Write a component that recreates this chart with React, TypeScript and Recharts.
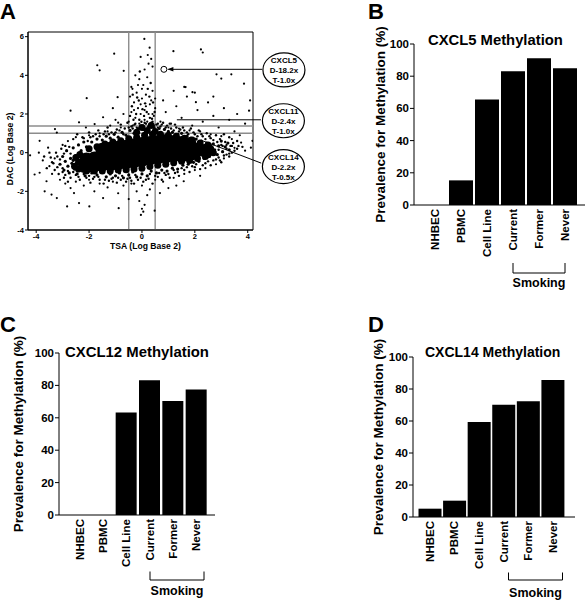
import React from "react";
import {
  ScatterChart,
  Scatter,
  BarChart,
  Bar,
  XAxis,
  YAxis,
  ReferenceLine,
  ReferenceDot,
  ReferenceArea,
} from "recharts";

const FONT = "'Liberation Sans', Arial, Helvetica, sans-serif";

// ---- panel A: TSA vs DAC expression change (log2) ----
const tsaTicks = [-4, -2, 0, 2, 4];
const dacTicks = [-4, -2, 0, 2, 4, 6];
const tsaCutoffs = [-0.5, 0.5];
const dacCutoffs = [1.0, 1.38];

// the solid middle of the cloud (three tilted rows)
const blobCore: [number, number][] = [
  [-2.1, -0.35], [-1.8, -0.3], [-1.5, -0.25], [-1.2, -0.2], [-0.9, -0.15], [-0.6, -0.1],
  [-0.3, -0.02], [0.0, 0.05], [0.3, 0.1], [0.6, 0.15], [0.9, 0.2], [1.2, 0.2],
  [1.5, 0.2], [1.8, 0.18], [2.1, 0.15], [2.4, 0.1],
  [-1.5, 0.15], [-1.2, 0.2], [-0.9, 0.25], [-0.6, 0.3], [-0.3, 0.38], [0.0, 0.45],
  [0.3, 0.5], [0.6, 0.55], [0.9, 0.6], [1.2, 0.55], [1.5, 0.5], [1.8, 0.45],
  [-2.1, -0.7], [-1.8, -0.65], [-1.5, -0.62], [-1.2, -0.6], [-0.9, -0.55], [-0.6, -0.5],
  [-0.3, -0.45], [0.0, -0.38], [0.3, -0.3], [0.6, -0.25], [0.9, -0.2], [1.2, -0.15],
  [1.5, -0.15], [1.8, -0.1],
];

// dense rim of the cloud
const blobEdge: [number, number][] = [
  [-2.0, 0.2], [-1.7, 0.3], [-1.4, 0.45], [-1.1, 0.55], [-0.8, 0.62], [-0.5, 0.72],
  [-0.2, 0.8], [0.1, 0.9], [0.4, 0.95], [0.7, 0.95], [1.0, 0.9], [1.3, 0.85],
  [1.6, 0.75], [1.9, 0.65], [2.2, 0.5], [2.5, 0.4],
  [-2.4, -0.85], [-2.1, -0.95], [-1.8, -0.95], [-1.5, -0.95], [-1.2, -0.95], [-0.9, -0.9],
  [-0.6, -0.88], [-0.3, -0.85], [0.0, -0.8], [0.3, -0.72], [0.6, -0.65], [0.9, -0.6],
  [1.2, -0.52], [1.5, -0.45], [1.8, -0.4], [2.1, -0.3], [2.4, -0.2],
  [-2.4, -0.5], [-2.5, -0.25], [-2.35, -0.1], [-2.55, -0.7], [2.6, 0.2], [2.7, 0.0],
  [2.5, -0.1], [-0.2, 1.05], [0.2, 1.15], [0.5, 1.1], [0.0, 1.3], [0.35, 1.4],
];

const fringe: [number, number][] = [
  [-3.1, -0.6], [-3.0, -0.2], [-2.95, -0.9], [-2.9, -0.45], [-2.85, 0.1], [-2.8, -0.7],
  [-2.75, -1.05], [-2.7, -0.3], [-2.65, -0.55], [-2.6, 0.25], [-2.55, -0.85], [-2.5, -0.15],
  [-2.45, -1.1], [-2.4, 0.4], [-2.35, -0.65], [-2.3, 0.1], [-2.25, -0.95], [-2.2, 0.55],
  [-2.15, -1.2], [-2.1, 0.3], [-2.05, -1.0], [-2.3, -0.35], [-2.6, -0.4], [-2.4, -0.2],
  [-1.9, 0.55], [-1.7, 0.7], [-1.5, 0.65], [-1.35, 0.85], [-1.2, 0.75], [-1.05, 0.95],
  [-0.9, 0.8], [-0.75, 1.05], [-0.6, 0.9], [-0.45, 1.15], [-0.3, 1.0], [-0.15, 1.25],
  [0.05, 1.2], [0.25, 1.35], [0.45, 1.3], [0.65, 1.25], [0.85, 1.2], [1.0, 1.1],
  [1.15, 1.05], [1.35, 0.95], [1.5, 1.0], [1.7, 0.85], [1.85, 0.75], [2.05, 0.7],
  [2.25, 0.6], [2.45, 0.5], [2.6, 0.35],
  [-1.9, -1.05], [-1.7, -1.15], [-1.5, -1.0], [-1.35, -1.25], [-1.2, -1.1], [-1.0, -1.2],
  [-0.85, -1.05], [-0.7, -1.3], [-0.5, -1.15], [-0.35, -1.0], [-0.2, -1.25], [0.0, -1.1],
  [0.2, -1.2], [0.35, -0.95], [0.55, -1.05], [0.75, -0.9], [0.95, -0.95], [1.15, -0.8],
  [1.35, -0.85], [1.55, -0.65], [1.75, -0.6], [1.95, -0.5], [2.15, -0.45], [2.35, -0.3],
  [2.55, -0.2],
  [2.4, 0.1], [2.5, 0.3], [2.6, -0.05], [2.7, 0.45], [2.75, 0.15], [2.85, -0.1],
  [2.9, 0.35], [3.0, 0.6], [3.05, 0.05], [3.15, 0.3], [3.25, 0.5], [3.3, 0.15],
];

// speckle ring hugging the rim
const ring: [number, number][] = [
  [-2.2, 0.75], [-2.05, 0.6], [-1.95, 0.8], [-1.75, 0.95], [-1.6, 0.85], [-1.4, 1.1],
  [-1.25, 0.95], [-1.0, 1.05], [-0.85, 1.15], [-0.7, 0.95], [-0.5, 1.3], [-0.35, 1.25],
  [-0.05, 1.4], [0.1, 1.55], [0.35, 1.55], [0.6, 1.5], [0.75, 1.45], [0.9, 1.3],
  [1.05, 1.5], [1.2, 1.15], [1.3, 1.3], [1.45, 1.2], [1.6, 1.15], [1.75, 0.95],
  [1.95, 1.05], [2.1, 0.85], [2.25, 0.95], [2.4, 0.7], [2.55, 0.85], [2.7, 0.65],
  [2.85, 0.55], [3.0, 0.4], [3.15, 0.55], [3.35, 0.35],
  [-2.9, -1.15], [-2.6, -1.0], [-2.4, -1.25], [-2.2, -1.1], [-2.0, -1.2], [-1.85, -1.35],
  [-1.65, -1.25], [-1.4, -1.4], [-1.15, -1.35], [-0.9, -1.3], [-0.75, -1.2], [-0.55, -1.35],
  [-0.4, -1.45], [-0.25, -1.15], [-0.05, -1.3], [0.15, -1.4], [0.3, -1.1], [0.5, -1.2],
  [0.65, -1.05], [0.85, -1.05], [1.0, -1.1], [1.2, -0.9], [1.35, -1.0], [1.5, -0.8],
  [1.7, -0.75], [1.9, -0.7], [2.05, -0.6], [2.3, -0.65], [2.5, -0.45], [2.7, -0.4],
  [2.9, -0.25], [3.1, -0.15], [3.3, -0.2],
  [-3.2, -0.75], [-3.1, -0.35], [-3.25, 0.0], [-2.95, -0.05], [-3.0, -0.8], [-2.8, -0.95],
  [-2.75, 0.3], [-2.7, -0.05], [-3.35, -0.55], [-3.45, -0.25],
  [2.9, 0.15], [3.05, 0.35], [3.2, 0.2], [3.4, 0.35], [3.5, 0.1], [3.65, 0.35],
  [3.8, 0.3], [2.95, -0.4], [3.3, -0.05],
];

// speckle just outside the ring
const halo: [number, number][] = [
  [-2.6, 0.7], [-2.45, 0.95], [-2.25, 0.8], [-2.0, 1.05], [-1.85, 0.85], [-1.65, 1.15],
  [-1.45, 0.95], [-1.3, 1.3], [-1.15, 1.05], [-0.95, 1.2], [-0.8, 1.45], [-0.65, 1.25],
  [-0.55, 1.55], [-0.4, 1.35], [-0.25, 1.5], [-0.1, 1.7], [0.15, 1.5], [0.3, 1.8],
  [0.4, 1.6], [0.55, 1.45], [0.7, 1.35], [0.8, 1.55], [0.95, 1.4], [1.1, 1.25],
  [1.25, 1.45], [1.4, 1.1], [1.55, 1.3], [1.7, 1.05], [1.85, 1.25], [2.0, 0.95],
  [2.15, 1.15], [2.3, 0.85], [2.45, 1.0], [2.6, 0.75], [2.8, 0.9], [2.95, 0.7],
  [3.1, 0.95], [3.3, 0.8], [3.45, 0.5], [3.6, 0.6],
  [-2.7, -1.3], [-2.5, -1.15], [-2.35, -1.4], [-2.1, -1.3], [-1.95, -1.55], [-1.8, -1.25],
  [-1.6, -1.4], [-1.45, -1.6], [-1.25, -1.45], [-1.1, -1.3], [-0.95, -1.55], [-0.8, -1.4],
  [-0.6, -1.5], [-0.45, -1.3], [-0.3, -1.6], [-0.15, -1.4], [0.05, -1.5], [0.25, -1.35],
  [0.4, -1.6], [0.6, -1.25], [0.75, -1.4], [0.9, -1.15], [1.05, -1.3], [1.25, -1.05],
  [1.4, -1.2], [1.6, -0.9], [1.8, -1.0], [2.0, -0.75], [2.2, -0.85], [2.4, -0.55],
  [2.6, -0.65], [2.8, -0.35], [3.0, -0.5], [3.2, -0.1], [3.4, 0.0], [3.6, 0.2],
  [-3.4, -0.5], [-3.3, -0.9], [-3.2, -0.2], [-3.15, -1.1], [-3.05, 0.2], [-2.95, -1.3],
  [-2.9, 0.35], [-3.5, 0.0], [-3.6, -0.8], [-3.7, -0.2], [-2.8, -1.5], [-3.0, -1.0],
  [-0.45, 1.9], [-0.38, 2.4], [-0.32, 1.7], [-0.22, 2.0], [-0.12, 2.7], [-0.02, 1.6],
  [0.08, 1.9], [0.18, 2.1], [0.28, 2.9], [0.38, 1.75], [0.48, 2.1], [-0.28, 1.45],
  [0.12, 2.55], [-0.18, 2.85], [0.22, 3.3], [0.02, 2.25], [-0.35, 3.0], [0.33, 3.6],
  [-0.08, 4.2], [0.42, 2.6],
];

const sparse: [number, number][] = [
  // column above the cloud
  [-0.5, 1.6], [-0.4, 2.1], [-0.35, 1.4], [-0.3, 2.6], [-0.25, 1.8], [-0.2, 3.1],
  [-0.15, 2.3], [-0.1, 1.5], [-0.05, 2.0], [0.0, 2.8], [0.05, 3.5], [0.1, 1.7],
  [0.15, 2.4], [0.2, 3.9], [0.25, 2.0], [0.3, 1.5], [0.35, 2.7], [0.4, 3.2],
  [0.45, 1.9], [0.5, 2.3], [-0.45, 2.9], [-0.1, 3.8], [0.1, 4.3], [0.25, 4.6],
  [-0.25, 4.0], [0.35, 4.85], [0.0, 3.3], [-0.4, 3.4], [0.15, 3.0], [0.3, 2.5],
  [-0.2, 1.3], [0.05, 1.4], [0.2, 1.6], [0.45, 1.4], [-0.05, 2.5], [0.1, 2.2],
  [-0.3, 2.2], [0.4, 2.0], [0.5, 2.8], [-0.15, 3.5],
  // upper right
  [0.7, 1.6], [0.9, 2.1], [1.1, 1.5], [1.3, 2.4], [1.5, 1.8], [1.7, 2.9], [1.9, 1.4],
  [2.1, 2.2], [2.3, 1.6], [2.5, 2.6], [2.7, 1.9], [2.9, 1.3], [3.1, 2.3], [3.3, 1.7],
  [3.5, 1.1], [3.7, 0.9], [3.9, 1.5], [0.8, 2.7], [1.2, 3.2], [1.6, 3.4], [2.0, 3.1],
  [2.7, 2.9], [3.6, 2.0], [4.05, 2.17], [4.09, 2.7], [3.86, 3.57], [3.38, 4.05],
  [2.82, 4.05], [3.0, 3.83], [1.91, 3.13], [2.04, 2.61], [1.65, 3.39], [0.6, 1.3],
  [1.0, 1.3], [1.4, 1.25], [1.8, 1.15], [2.2, 1.1], [2.6, 0.95], [3.0, 0.85], [3.4, 0.7],
  [3.75, 0.52], [4.12, 0.26], [4.18, 0.61], [3.2, 0.4], [3.5, 0.25], [3.9, 0.1],
  // top outliers
  [0.09, 5.88], [-1.05, 5.12], [0.22, 5.05], [1.19, 5.25], [2.23, 5.34], [2.3, 5.18],
  [0.29, 5.43], [-1.69, 4.52], [-1.6, 4.26], [-0.69, 4.23], [-0.36, 3.3], [-0.92, 2.87],
  [-2.09, 2.82], [-2.7, 2.17], [-0.05, 4.95], [0.4, 4.45],
  // upper left
  [-3.29, 1.22], [-3.22, 1.04], [-2.12, 1.3], [-1.79, 1.48], [-1.47, 1.83], [-2.38, 1.57],
  [-1.2, 1.4], [-1.0, 1.7], [-0.8, 1.3], [-0.7, 2.0], [-1.3, 1.1], [-1.6, 1.0],
  [-2.0, 0.9], [-2.5, 0.8], [-2.8, 0.6], [-3.55, 0.26], [-3.87, 0.61], [-3.0, 0.4],
  [-1.1, 2.3], [-0.9, 1.55],
  // lower left
  [-4.06, -1.13], [-3.87, -1.04], [-3.61, -1.48], [-3.42, -2.17], [-3.68, -2.0],
  [-3.22, -2.35], [-2.83, -2.78], [-2.38, -2.61], [-2.57, -2.09], [-1.99, -2.78],
  [-2.7, -1.83], [-4.23, -0.14], [-3.5, -0.7], [-3.3, -0.3], [-3.4, -1.1], [-3.1, -1.4],
  [-2.9, -1.6], [-2.5, -1.5], [-2.2, -1.7], [-2.0, -1.4], [-1.8, -2.0], [-1.6, -1.6],
  [-1.47, -2.35], [-1.3, -1.8], [-1.1, -1.5], [-0.88, -2.87], [-0.9, -2.1], [-0.7, -1.7],
  [-0.5, -2.4], [-0.4, -1.6], [-3.75, -0.4], [-3.9, 0.0],
  // column below the cloud
  [-0.04, -3.22], [0.0, -2.9], [0.05, -3.05], [0.1, -2.7], [-0.1, -2.5], [0.2, -2.2],
  [0.48, -3.0], [0.3, -1.9], [0.0, -1.7], [-0.2, -2.0],
  // lower right
  [0.68, -2.09], [1.0, -1.83], [1.58, -1.48], [0.8, -1.5], [1.2, -1.3], [1.6, -1.1],
  [2.0, -0.9], [2.4, -0.8], [2.8, -0.6], [0.5, -1.4], [1.3, -1.7], [2.2, -1.2], [3.1, -0.3],
];

const cxcl5Point = { x: 0.83, y: 4.31 };
const calloutGenes = ["CXCL5", "CXCL11", "CXCL14"];
const calloutDAC = ["D-18.2x", "D-2.4x", "D-2.2x"];
const calloutTSA = ["T-1.0x", "T-1.0x", "T-0.5x"];

// ---- panels B-D: methylation prevalence ----
const categories = ["NHBEC", "PBMC", "Cell Line", "Current", "Former", "Never"];
const cxcl5Values = [0, 15.3, 65.5, 83, 91.1, 84.9];
const cxcl12Values = [0, 0, 63.3, 83.2, 70.4, 77.4];
const cxcl14Values = [5.2, 10.2, 59.3, 70.2, 72.3, 85.6];
const pctTicks = [0, 20, 40, 60, 80, 100];

const toPts = (arr: [number, number][]) => arr.map(([x, y]) => ({ x, y }));
const dot = (r: number) => (p: any) => <circle cx={p.cx} cy={p.cy} r={r} fill="#000" />;

const calloutPos = [
  { x: 5.37, y: 4.28 },
  { x: 5.35, y: 1.65 },
  { x: 5.35, y: -0.72 },
];

function Callout({ cx, cy, i }: any) {
  const lines = [calloutGenes[i], calloutDAC[i], calloutTSA[i]];
  return (
    <g>
      <ellipse cx={cx} cy={cy} rx={21} ry={17} fill="#fff" stroke="#000" strokeWidth={1.2} />
      {lines.map((t, k) => (
        <text
          key={k}
          x={cx}
          y={cy + (k - 1) * 10 + 0.5}
          textAnchor="middle"
          dominantBaseline="central"
          fontFamily={FONT}
          fontWeight="bold"
          fontSize={8}
          fill="#000"
        >
          {t}
        </text>
      ))}
    </g>
  );
}

function ScatterPanel() {
  const tick = { fill: "#000", fontSize: 7.5, fontWeight: "bold", fontFamily: FONT };
  return (
    <div style={{ position: "absolute", left: 0, top: 0 }}>
      <ScatterChart width={310} height={260} margin={{ top: 32, right: 57, bottom: 0, left: 0 }}>
        <XAxis
          type="number"
          dataKey="x"
          domain={[-4.31, 4.2]}
          ticks={tsaTicks}
          allowDataOverflow
          height={30}
          tickSize={3}
          tickMargin={1}
          stroke="#000"
          tick={tick}
          label={{
            content: (p: any) => {
              const vb = p.viewBox || { x: 28, y: 230, width: 225, height: 30 };
              return (
                <text x={vb.x + vb.width / 2 + 5} y={vb.y + 19} textAnchor="middle" fontFamily={FONT} fontWeight="bold" fontSize={8.6} fill="#000">
                  TSA (Log Base 2)
                </text>
              );
            },
          }}
        />
        <YAxis
          type="number"
          dataKey="y"
          domain={[-4, 6.24]}
          ticks={dacTicks}
          allowDataOverflow
          width={28}
          tickSize={3}
          tickMargin={1}
          stroke="#000"
          tick={tick}
          label={{
            content: (p: any) => {
              const vb = p.viewBox || { x: 0, y: 32, width: 28, height: 198 };
              const cx = vb.x + 10;
              const cy = vb.y + vb.height / 2 + 18;
              return (
                <text x={cx} y={cy} transform={`rotate(-90 ${cx} ${cy})`} textAnchor="middle" dominantBaseline="central" fontFamily={FONT} fontWeight="bold" fontSize={8.6} fill="#000">
                  DAC (Log Base 2)
                </text>
              );
            },
          }}
        />
        <Scatter data={toPts(sparse)} shape={dot(1.1)} isAnimationActive={false} />
        <Scatter data={toPts(halo)} shape={dot(1.2)} isAnimationActive={false} />
        <Scatter data={toPts(ring)} shape={dot(1.2)} isAnimationActive={false} />
        <Scatter data={toPts(fringe)} shape={dot(1.6)} isAnimationActive={false} />
        <Scatter data={toPts(blobEdge)} shape={dot(3.5)} isAnimationActive={false} />
        <Scatter data={toPts(blobCore)} shape={dot(7)} isAnimationActive={false} />
        {tsaCutoffs.map((v) => (
          <ReferenceLine key={"x" + v} x={v} stroke="#8c8c8c" strokeWidth={1.4} />
        ))}
        {dacCutoffs.map((v) => (
          <ReferenceLine key={"y" + v} y={v} stroke="#8c8c8c" strokeWidth={1.4} />
        ))}
        <ReferenceArea x1={-4.31} x2={4.2} y1={-4} y2={6.24} fill="none" fillOpacity={0} stroke="#000" strokeWidth={1} />
        <ReferenceDot x={cxcl5Point.x} y={cxcl5Point.y} r={3} fill="none" stroke="#000" strokeWidth={1} />
        <ReferenceLine segment={[{ x: 1.0, y: 4.31 }, { x: 4.55, y: 4.31 }]} stroke="#000" ifOverflow="visible" />
        <ReferenceDot
          x={1.0}
          y={4.31}
          ifOverflow="visible"
          shape={(p: any) => <polygon points={`${p.cx - 1},${p.cy} ${p.cx + 5},${p.cy - 2.2} ${p.cx + 5},${p.cy + 2.2}`} fill="#000" />}
        />
        <ReferenceLine segment={[{ x: 1.32, y: 1.7 }, { x: 4.5, y: 1.7 }]} stroke="#000" ifOverflow="visible" />
        <ReferenceLine segment={[{ x: 2.3, y: 0.61 }, { x: 4.51, y: -0.54 }]} stroke="#000" ifOverflow="visible" />
        {calloutPos.map((c, i) => (
          <ReferenceDot key={i} x={c.x} y={c.y} ifOverflow="visible" shape={(p: any) => <Callout cx={p.cx} cy={p.cy} i={i} />} />
        ))}
      </ScatterChart>
    </div>
  );
}

function RotTick(p: any) {
  return (
    <text
      x={p.x}
      y={p.y}
      transform={`rotate(-90 ${p.x} ${p.y})`}
      textAnchor="end"
      dy="0.35em"
      fontFamily={FONT}
      fontWeight="bold"
      fontSize={11.5}
      fill="#000"
    >
      {p.payload.value}
    </text>
  );
}

function BarPanel(props: any) {
  const { values, left, top, width, mTop, mBottom, axisW, padL, padR, labelX } = props;
  const data = categories.map((c, i) => ({ category: c, value: values[i] }));
  return (
    <div style={{ position: "absolute", left, top }}>
      <BarChart width={width} height={300} data={data} margin={{ top: mTop, right: 0, bottom: mBottom, left: 0 }} barCategoryGap={1}>
        <XAxis
          dataKey="category"
          height={60}
          padding={{ left: padL, right: padR }}
          interval={0}
          tickLine={false}
          tickSize={2}
          tickMargin={2}
          stroke="#000"
          tick={<RotTick />}
        />
        <YAxis
          domain={[0, 100]}
          ticks={pctTicks}
          width={axisW}
          tickSize={4}
          tickMargin={1}
          stroke="#000"
          tick={{ fill: "#000", fontSize: 11.5, fontWeight: "bold", fontFamily: FONT }}
          label={{
            content: (p: any) => {
              const vb = p.viewBox || { x: 0, y: mTop, width: axisW, height: 300 - mTop - mBottom - 60 };
              const cx = vb.x + labelX;
              const cy = vb.y + vb.height / 2;
              return (
                <text x={cx} y={cy} transform={`rotate(-90 ${cx} ${cy})`} textAnchor="middle" dominantBaseline="central" fontFamily={FONT} fontWeight="bold" fontSize={13.5} fill="#000">
                  Prevalence for Methylation (%)
                </text>
              );
            },
          }}
        />
        <Bar dataKey="value" fill="#000" isAnimationActive={false} />
      </BarChart>
    </div>
  );
}

const txt = { fontFamily: FONT, fontWeight: "bold", fill: "#000" } as const;

function Annotations() {
  const brackets = [
    { x1: 513, x2: 565, y: 273, top: 263, ty: 287 },
    { x1: 150, x2: 204, y: 580, top: 571.5, ty: 595 },
    { x1: 508.5, x2: 562.5, y: 580, top: 572.5, ty: 597 },
  ];
  return (
    <svg width={585} height={600} style={{ position: "absolute", left: 0, top: 0, pointerEvents: "none" }}>
      <text x={0} y={19} fontSize={22} {...txt}>A</text>
      <text x={368} y={19} fontSize={22} {...txt}>B</text>
      <text x={0} y={332} fontSize={22} {...txt}>C</text>
      <text x={368} y={332} fontSize={22} {...txt}>D</text>
      <text x={428} y={45} fontSize={14.8} {...txt}>CXCL5 Methylation</text>
      <text x={65} y={357} fontSize={14.9} {...txt}>CXCL12 Methylation</text>
      <text x={425} y={356.5} fontSize={14} {...txt}>CXCL14 Methylation</text>
      {brackets.map((b, i) => (
        <g key={i}>
          <polyline points={`${b.x1},${b.top} ${b.x1},${b.y} ${b.x2},${b.y} ${b.x2},${b.top}`} fill="none" stroke="#000" strokeWidth={1} />
          <text x={(b.x1 + b.x2) / 2} y={b.ty} textAnchor="middle" fontSize={12.5} {...txt}>
            Smoking
          </text>
        </g>
      ))}
    </svg>
  );
}

export default function App() {
  return (
    <div style={{ position: "absolute", left: 0, top: 0, width: 585, height: 600, background: "#fff" }}>
      <ScatterPanel />
      <BarPanel values={cxcl5Values} left={330} top={0} width={255} mTop={44} mBottom={35} axisW={84} padL={8} padR={7} labelX={50} />
      <BarPanel values={cxcl12Values} left={0} top={300} width={215} mTop={53} mBottom={25} axisW={59} padL={9} padR={7} labelX={18} />
      <BarPanel values={cxcl14Values} left={330} top={300} width={245} mTop={57} mBottom={23} axisW={83} padL={4.5} padR={10} labelX={48.3} />
      <Annotations />
    </div>
  );
}
